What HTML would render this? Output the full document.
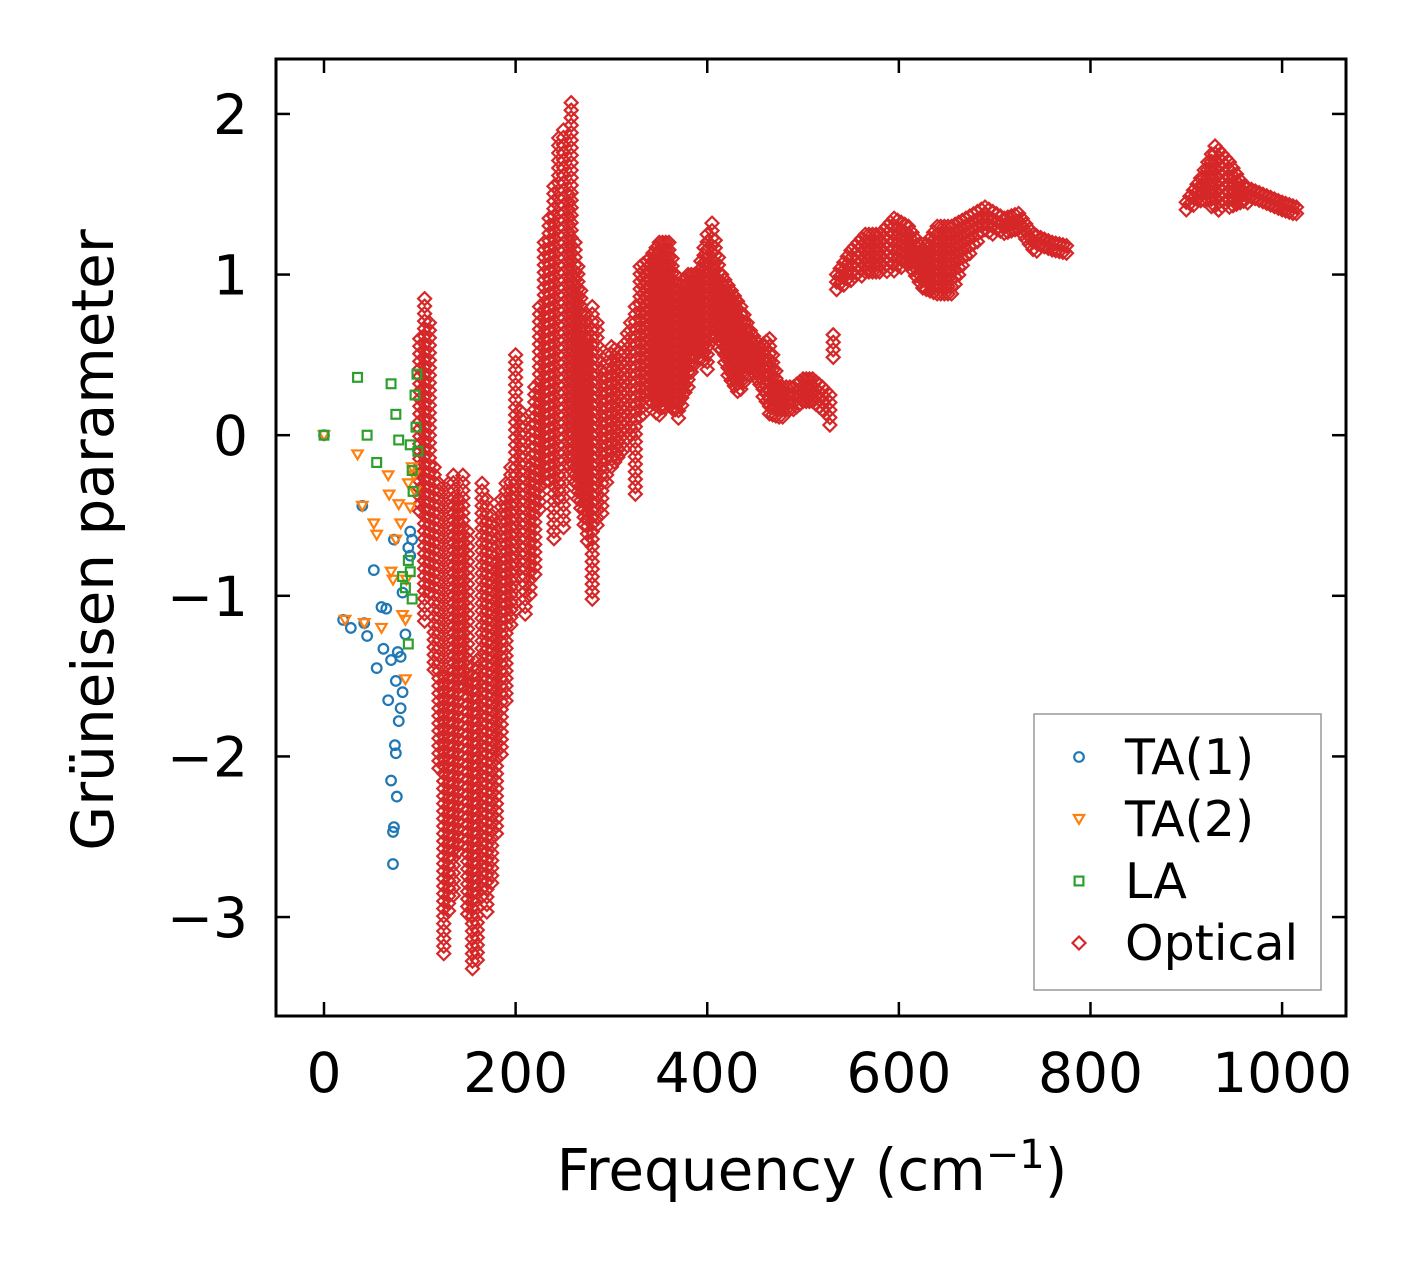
<!DOCTYPE html>
<html><head><meta charset="utf-8"><style>
html,body{margin:0;padding:0;background:#fff}
svg{display:block;font-family:"DejaVu Sans","Liberation Sans",sans-serif}
</style></head><body>
<svg id="chart" width="1416" height="1264" viewBox="0 0 1416 1264" xmlns="http://www.w3.org/2000/svg">
<g id="marks"></g>
<g id="axes"></g>
<text x="0" y="0" transform="translate(113,540) rotate(-90)" text-anchor="middle" font-size="58">Grüneisen parameter</text>
<text x="812" y="1190" text-anchor="middle" font-size="58">Frequency (cm<tspan dy="-22" font-size="40">−1</tspan><tspan dy="22">)</tspan></text>
<g id="legend"></g>
</svg>
<script>
const xTicks=[0,200,400,600,800,1000];
const yTicks=[2,1,0,-1,-2,-3];
const yTickLabels=["2","1","0","−1","−2","−3"];
const ta1X=[0,20,28,40,42,45,52,55,60,62,65,67,70,70,72,73,72,74,75,76,75,77,78,80,82,80,85,82,88,90,92,73,90];
const ta1Y=[0,-1.15,-1.2,-0.44,-1.17,-1.25,-0.84,-1.45,-1.07,-1.33,-1.08,-1.65,-1.4,-2.15,-2.47,-2.44,-2.67,-1.93,-1.98,-2.25,-1.53,-1.35,-1.78,-1.7,-1.6,-1.38,-1.24,-0.98,-0.7,-0.6,-0.65,-0.65,-0.75];
const ta2X=[0,22,35,40,42,52,55,60,67,68,70,72,75,78,80,82,85,86,88,90,92,94,95,85];
const ta2Y=[0,-1.15,-0.12,-0.44,-1.17,-0.55,-0.62,-1.2,-0.25,-0.37,-0.85,-0.9,-0.65,-0.43,-0.55,-1.12,-1.52,-0.9,-0.3,-0.45,-0.2,-0.25,-0.35,-1.15];
const laX=[0,35,45,55,70,75,78,82,85,88,90,92,93,95,97,96,98,92,88,90];
const laY=[0,0.36,0,-0.17,0.32,0.13,-0.03,-0.88,-0.95,-1.3,-0.06,-0.22,-0.35,0.25,0.38,0.05,-0.1,-1.02,-0.78,-0.85];
const optFreq=[100,105,110,115,120,125,130,135,140,145,150,155,160,165,170,175,180,185,190,195,200,205,210,215,220,225,230,235,240,245,250,255,258,262,268,275,280,285,290,295,300,310,320,325,330,340,350,360,370,380,390,400,405,415,425,435,445,455,465,475,490,500,510,520,528,535,550,565,580,595,610,625,640,655,670,690,710,725,740,760,775,900,915,930,945,960,980,1000,1015];
const optLow=[-0.5,-1.2,-1.0,-1.5,-2.1,-3.25,-3.0,-2.9,-2.6,-1.6,-3.0,-3.35,-3.3,-2.9,-3.0,-2.8,-2.5,-2.0,-1.7,-1.2,-1.1,-0.9,-1.15,-1.0,-0.9,-0.5,-0.3,-0.3,-0.65,-0.4,-0.6,-0.2,0.0,-0.3,-0.5,-0.7,-1.05,-0.6,-0.5,-0.3,-0.2,-0.15,0.0,-0.4,0.1,0.2,0.1,0.2,0.1,0.3,0.5,0.4,0.6,0.5,0.3,0.25,0.4,0.3,0.1,0.1,0.15,0.2,0.2,0.15,0.05,0.9,0.95,1.0,1.0,1.0,1.05,0.9,0.85,0.85,1.1,1.25,1.25,1.25,1.15,1.12,1.12,1.4,1.45,1.4,1.4,1.45,1.42,1.38,1.38];
const optHigh=[0.6,0.85,0.7,-0.2,-0.3,-1.5,-0.3,-0.25,-0.4,-0.25,-0.6,-1.5,-1.4,-0.3,-0.4,-0.5,-0.8,-0.4,-0.3,-0.2,0.5,0.15,0.1,-0.2,0.3,0.8,1.2,1.35,1.55,1.85,1.9,1.5,2.07,1.2,0.9,0.6,0.8,0.7,0.4,0.5,0.55,0.5,0.7,0.8,1.05,1.1,1.2,1.2,0.9,1.0,1.0,1.25,1.32,1.0,0.9,0.8,0.65,0.55,0.6,0.3,0.3,0.35,0.35,0.3,0.25,1.0,1.15,1.25,1.25,1.35,1.3,1.15,1.3,1.3,1.35,1.42,1.35,1.38,1.25,1.2,1.18,1.45,1.6,1.8,1.7,1.55,1.5,1.45,1.42];

const X0=276,X1=1346,Y0=59,Y1=1016;
const xmin=-50.1,xmax=1066.7,ymin=-3.616,ymax=2.342;
const sx=v=>X0+(v-xmin)/(xmax-xmin)*(X1-X0);
const sy=v=>Y1-(v-ymin)/(ymax-ymin)*(Y1-Y0);
const NS="http://www.w3.org/2000/svg";
const marks=document.getElementById('marks');
const axes=document.getElementById('axes');
function mk(tag,attrs,parent){const e=document.createElementNS(NS,tag);for(const k in attrs)e.setAttribute(k,attrs[k]);parent.appendChild(e);return e;}
const C={b:'#1f77b4',o:'#ff7f0e',g:'#2ca02c',r:'#d62728'};
function diamond(cx,cy,col,p){const r=6.5;return mk('polygon',{points:`${cx},${cy-r} ${cx+r},${cy} ${cx},${cy+r} ${cx-r},${cy}`,fill:'none',stroke:col,'stroke-width':2.2},p);}
function circle(cx,cy,col,p){return mk('circle',{cx:cx,cy:cy,r:4.8,fill:'none',stroke:col,'stroke-width':2.2},p);}
function tri(cx,cy,col,p){return mk('polygon',{points:`${cx-5.2},${cy-4} ${cx+5.2},${cy-4} ${cx},${cy+4.8}`,fill:'none',stroke:col,'stroke-width':2.2},p);}
function square(cx,cy,col,p){return mk('rect',{x:cx-4.4,y:cy-4.4,width:8.8,height:8.8,fill:'none',stroke:col,'stroke-width':2.2},p);}

const gOpt=mk('g',{},marks);


for(let i=0;i<optFreq.length;i++){
  const cols=[[optFreq[i],optLow[i],optHigh[i]]];
  if(i+1<optFreq.length && optFreq[i+1]-optFreq[i]<=30){
    const n=Math.max(1,Math.round((optFreq[i+1]-optFreq[i])/4));
    for(let k=1;k<n;k++){const t=k/n;cols.push([optFreq[i]+t*(optFreq[i+1]-optFreq[i]),optLow[i]+t*(optLow[i+1]-optLow[i]),optHigh[i]+t*(optHigh[i+1]-optHigh[i])]);}
  }
  cols.forEach(c=>{
    const px=sx(c[0]),yl=sy(c[1]),yh=sy(c[2]);
    for(let y=yh;y<=yl+0.1;y+=7.5){const d=diamond(px,y,C.r,gOpt);}
    if(yl-yh<7.5){const d=diamond(px,yl,C.r,gOpt);}
  });
}
const gB=mk('g',{},marks);
ta1X.forEach((x,i)=>{const e=circle(sx(x),sy(ta1Y[i]),C.b,gB);});
const gO=mk('g',{},marks);
ta2X.forEach((x,i)=>{const e=tri(sx(x),sy(ta2Y[i]),C.o,gO);});
const gG=mk('g',{},marks);
laX.forEach((x,i)=>{const e=square(sx(x),sy(laY[i]),C.g,gG);});

const frame=mk('rect',{x:X0,y:Y0,width:X1-X0,height:Y1-Y0,fill:'none',stroke:'#000','stroke-width':3},axes);

xTicks.forEach(v=>{const x=sx(v);
  mk('line',{x1:x,y1:Y1,x2:x,y2:Y1-14,stroke:'#000','stroke-width':2.5},axes);
  mk('line',{x1:x,y1:Y0,x2:x,y2:Y0+14,stroke:'#000','stroke-width':2.5},axes);
  const t=mk('text',{x:x,y:1092,'text-anchor':'middle','font-size':55},axes);t.textContent=v;
  
});
yTicks.forEach((v,i)=>{const y=sy(v);
  mk('line',{x1:X0,y1:y,x2:X0+14,y2:y,stroke:'#000','stroke-width':2.5},axes);
  mk('line',{x1:X1,y1:y,x2:X1-14,y2:y,stroke:'#000','stroke-width':2.5},axes);
  const t=mk('text',{x:248,y:y+20,'text-anchor':'end','font-size':55},axes);t.textContent=yTickLabels[i];
  
});

const lg=document.getElementById('legend');
const box=mk('rect',{x:1034,y:714,width:287,height:276,fill:'#fff',stroke:'#999','stroke-width':1.5},lg);

const names=['TA(1)','TA(2)','LA','Optical'];
const fns=[circle,tri,square,diamond];const cols=[C.b,C.o,C.g,C.r];
names.forEach((n,i)=>{const y=757+i*62;
  const g=mk('g',{},lg);
  fns[i](1079,y,cols[i],g);
  const t=mk('text',{x:1125,y:y+17,'font-size':49},g);t.textContent=n;
});
</script>
</body></html>
